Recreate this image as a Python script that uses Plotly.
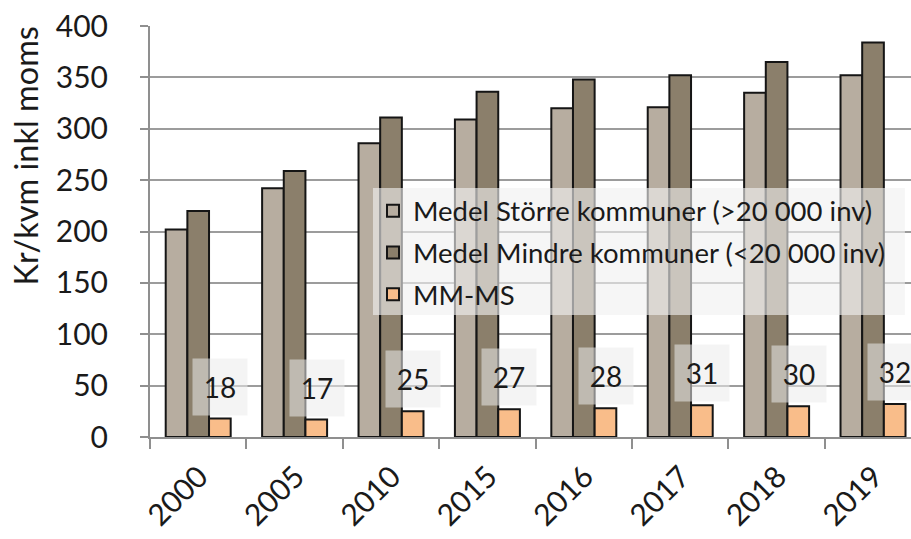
import plotly.graph_objects as go

years = ["2000", "2005", "2010", "2015", "2016", "2017", "2018", "2019"]
storre = [202, 242, 286, 309, 320, 321, 335, 352]
mindre = [220, 259, 311, 336, 348, 352, 365, 384]
mm_ms = [18, 17, 25, 27, 28, 31, 30, 32]

names = ["Medel Större kommuner (>20 000 inv)",
         "Medel Mindre kommuner (<20 000 inv)",
         "MM-MS"]
colors = ["#b7ada0", "#8b7f6b", "#f9bd8a"]

FONT = "Lato"
TXT = "#1a1a1a"

fig = go.Figure()
for k, (name, vals, col) in enumerate(zip(names, [storre, mindre, mm_ms], colors)):
    fig.add_trace(go.Bar(
        x=years, y=vals, name=name, legendgroup=f"g{k}",
        marker=dict(color=col, line=dict(color="#151515", width=2)),
    ))

# data labels for MM-MS (x given as category index)
for i, v in enumerate(mm_ms):
    fig.add_annotation(
        x=i, y=v, xref="x", yref="y",
        text=str(v), showarrow=False,
        xanchor="center", yanchor="middle",
        xshift=22, yshift=32,
        font=dict(family=FONT, size=28, color=TXT),
        bgcolor="rgba(235,235,235,0.55)",
        width=50, height=52, borderpad=2,
    )

# y axis title
fig.add_annotation(
    x=-0.164, y=0.683, xref="paper", yref="paper",
    xanchor="center", yanchor="middle",
    text="Kr/kvm inkl moms", textangle=-90, showarrow=False,
    font=dict(family=FONT, size=32.5, color=TXT),
)

# legend background panel
fig.add_shape(
    type="rect", xref="paper", yref="paper",
    x0=0.293, x1=0.992, y0=0.297, y1=0.606,
    fillcolor="rgba(240,240,240,0.62)", line=dict(width=0), layer="above",
)

fig.update_layout(
    width=911, height=539,
    margin=dict(l=150, r=0, t=26, b=102),
    paper_bgcolor="white", plot_bgcolor="white",
    barmode="group", bargap=0.326, bargroupgap=0,
    font=dict(family=FONT, color=TXT),
    legend=dict(
        x=0.293, y=0.61, xanchor="left", yanchor="top",
        bgcolor="rgba(0,0,0,0)",
        font=dict(family=FONT, size=27.5, color=TXT),
        traceorder="grouped", tracegroupgap=3,
    ),
    xaxis=dict(
        type="category", range=[-0.5, 7.394],
        showline=True, linecolor="#8f8f8f", linewidth=2,
        ticks="outside", tickson="boundaries", ticklen=10,
        tickcolor="#8f8f8f", tickwidth=2,
        tickangle=-45, tickfont=dict(family=FONT, size=30, color=TXT),
        ticklabelshift=1, ticklabelstandoff=8,
        showgrid=False,
    ),
    yaxis=dict(
        range=[0, 400], dtick=50,
        showline=True, linecolor="#8f8f8f", linewidth=2,
        ticks="outside", ticklen=8, tickcolor="#8f8f8f", tickwidth=2,
        ticklabelstandoff=26,
        tickfont=dict(family=FONT, size=30, color=TXT),
        showgrid=True, gridcolor="#9c9c9c", gridwidth=1.5,
        zeroline=False,
    ),
    yaxis2=dict(
        range=[0, 400], dtick=50, overlaying="y", side="left", anchor="x",
        ticks="inside", ticklen=8, tickcolor="#8f8f8f", tickwidth=2,
        showticklabels=False, showgrid=False, showline=False, zeroline=False,
    ),
)

fig.write_html("out.html", config={"displayModeBar": False},
               post_script="document.body.style.margin='0';")
